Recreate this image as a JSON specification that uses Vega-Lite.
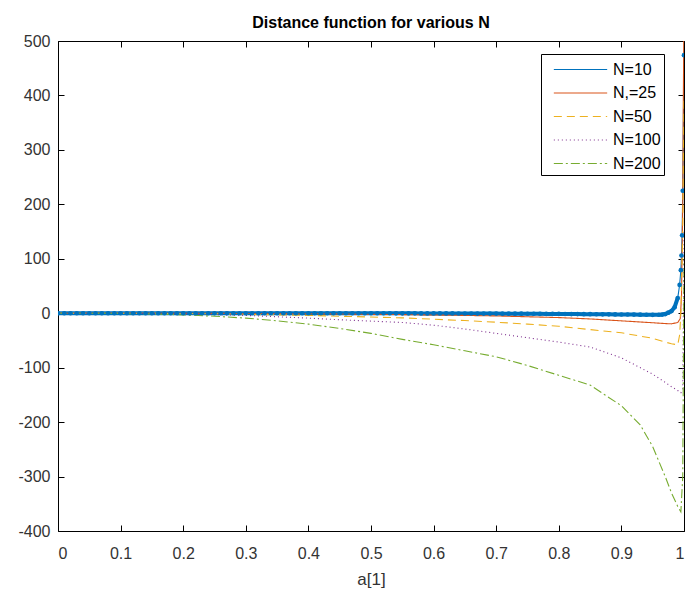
{
  "$schema": "https://vega.github.io/schema/vega-lite/v6.json",
  "width": 626,
  "height": 490,
  "autosize": "none",
  "padding": {"left": 58, "top": 41, "right": 3, "bottom": 59},
  "background": "white",
  "config": {
    "font": "Liberation Sans",
    "view": {"stroke": "black", "strokeWidth": 1},
    "axis": {"grid": false, "domain": false, "tickColor": "black", "labelColor": "#333333", "labelFontSize": 16, "titleColor": "#333333", "titleFontSize": 17, "titleFontWeight": "normal"},
    "legend": {"orient": "none", "legendX": 483, "legendY": 13, "fillColor": "white", "strokeColor": "black", "padding": 3, "symbolType": "M-2.3,0H2.3", "symbolSize": 538, "symbolOffset": 24, "symbolStrokeWidth": 1.1, "labelFontSize": 16, "labelColor": "black", "rowPadding": 2.5, "labelOffset": 20}
  },
  "title": {"text": "Distance function for various N", "fontSize": 16, "fontWeight": "bold", "color": "black", "offset": 2, "anchor": "middle"},
  "data": {"values": [
    {"N":"N=10","a":0,"d":0},{"N":"N=10","a":0.01,"d":0},{"N":"N=10","a":0.02,"d":0},{"N":"N=10","a":0.03,"d":0},{"N":"N=10","a":0.04,"d":0},{"N":"N=10","a":0.05,"d":0},{"N":"N=10","a":0.06,"d":0},{"N":"N=10","a":0.07,"d":0},{"N":"N=10","a":0.08,"d":0},{"N":"N=10","a":0.09,"d":0},
    {"N":"N=10","a":0.1,"d":0},{"N":"N=10","a":0.11,"d":0},{"N":"N=10","a":0.12,"d":0},{"N":"N=10","a":0.13,"d":0},{"N":"N=10","a":0.14,"d":0},{"N":"N=10","a":0.15,"d":0},{"N":"N=10","a":0.16,"d":0},{"N":"N=10","a":0.17,"d":0},{"N":"N=10","a":0.18,"d":0},{"N":"N=10","a":0.19,"d":0},
    {"N":"N=10","a":0.2,"d":0},{"N":"N=10","a":0.21,"d":0},{"N":"N=10","a":0.22,"d":0},{"N":"N=10","a":0.23,"d":0},{"N":"N=10","a":0.24,"d":0},{"N":"N=10","a":0.25,"d":0},{"N":"N=10","a":0.26,"d":0},{"N":"N=10","a":0.27,"d":0},{"N":"N=10","a":0.28,"d":0},{"N":"N=10","a":0.29,"d":0},
    {"N":"N=10","a":0.3,"d":0},{"N":"N=10","a":0.31,"d":0},{"N":"N=10","a":0.32,"d":0},{"N":"N=10","a":0.33,"d":0},{"N":"N=10","a":0.34,"d":0},{"N":"N=10","a":0.35,"d":0},{"N":"N=10","a":0.36,"d":0},{"N":"N=10","a":0.37,"d":0},{"N":"N=10","a":0.38,"d":0},{"N":"N=10","a":0.39,"d":0},
    {"N":"N=10","a":0.4,"d":0},{"N":"N=10","a":0.41,"d":0},{"N":"N=10","a":0.42,"d":0},{"N":"N=10","a":0.43,"d":0},{"N":"N=10","a":0.44,"d":0},{"N":"N=10","a":0.45,"d":0},{"N":"N=10","a":0.46,"d":0},{"N":"N=10","a":0.47,"d":0},{"N":"N=10","a":0.48,"d":0},{"N":"N=10","a":0.49,"d":0},
    {"N":"N=10","a":0.5,"d":0},{"N":"N=10","a":0.51,"d":0},{"N":"N=10","a":0.52,"d":0},{"N":"N=10","a":0.53,"d":0},{"N":"N=10","a":0.54,"d":-0.2},{"N":"N=10","a":0.55,"d":-0.2},{"N":"N=10","a":0.56,"d":-0.2},{"N":"N=10","a":0.57,"d":-0.2},{"N":"N=10","a":0.58,"d":-0.3},{"N":"N=10","a":0.59,"d":-0.3},
    {"N":"N=10","a":0.6,"d":-0.3},{"N":"N=10","a":0.61,"d":-0.4},{"N":"N=10","a":0.62,"d":-0.4},{"N":"N=10","a":0.63,"d":-0.4},{"N":"N=10","a":0.64,"d":-0.5},{"N":"N=10","a":0.65,"d":-0.5},{"N":"N=10","a":0.66,"d":-0.5},{"N":"N=10","a":0.67,"d":-0.6},{"N":"N=10","a":0.68,"d":-0.6},{"N":"N=10","a":0.69,"d":-0.7},
    {"N":"N=10","a":0.7,"d":-0.7},{"N":"N=10","a":0.71,"d":-0.8},{"N":"N=10","a":0.72,"d":-0.8},{"N":"N=10","a":0.73,"d":-0.9},{"N":"N=10","a":0.74,"d":-0.9},{"N":"N=10","a":0.75,"d":-1},{"N":"N=10","a":0.76,"d":-1},{"N":"N=10","a":0.77,"d":-1.1},{"N":"N=10","a":0.78,"d":-1.2},{"N":"N=10","a":0.79,"d":-1.2},
    {"N":"N=10","a":0.8,"d":-1.3},{"N":"N=10","a":0.81,"d":-1.4},{"N":"N=10","a":0.82,"d":-1.5},{"N":"N=10","a":0.83,"d":-1.6},{"N":"N=10","a":0.84,"d":-1.7},{"N":"N=10","a":0.85,"d":-1.8},{"N":"N=10","a":0.86,"d":-1.9},{"N":"N=10","a":0.87,"d":-2},{"N":"N=10","a":0.88,"d":-2.1},{"N":"N=10","a":0.89,"d":-2.2},
    {"N":"N=10","a":0.9,"d":-2.3},{"N":"N=10","a":0.91,"d":-2.4},{"N":"N=10","a":0.92,"d":-2.5},{"N":"N=10","a":0.93,"d":-2.7},{"N":"N=10","a":0.94,"d":-2.8},{"N":"N=10","a":0.95,"d":-3},{"N":"N=10","a":0.96,"d":-2.8},{"N":"N=10","a":0.965,"d":-2.5},{"N":"N=10","a":0.97,"d":-1.5},{"N":"N=10","a":0.975,"d":1},
    {"N":"N=10","a":0.98,"d":4},{"N":"N=10","a":0.985,"d":11},{"N":"N=10","a":0.99,"d":28},{"N":"N=10","a":0.993,"d":52},{"N":"N=10","a":0.995,"d":79},{"N":"N=10","a":0.996,"d":106},{"N":"N=10","a":0.997,"d":143},{"N":"N=10","a":0.998,"d":225},{"N":"N=10","a":1,"d":474},

    {"N":"N,=25","a":0,"d":0},{"N":"N,=25","a":0.05,"d":0},{"N":"N,=25","a":0.1,"d":0},{"N":"N,=25","a":0.15,"d":0},{"N":"N,=25","a":0.2,"d":-0.2},{"N":"N,=25","a":0.25,"d":-0.3},{"N":"N,=25","a":0.3,"d":-0.5},{"N":"N,=25","a":0.35,"d":-0.7},{"N":"N,=25","a":0.4,"d":-1},{"N":"N,=25","a":0.45,"d":-1.3},
    {"N":"N,=25","a":0.5,"d":-2},{"N":"N,=25","a":0.55,"d":-2.5},{"N":"N,=25","a":0.6,"d":-3.2},{"N":"N,=25","a":0.65,"d":-4},{"N":"N,=25","a":0.7,"d":-5},{"N":"N,=25","a":0.75,"d":-6.5},{"N":"N,=25","a":0.8,"d":-8},{"N":"N,=25","a":0.85,"d":-10.5},{"N":"N,=25","a":0.9,"d":-14},{"N":"N,=25","a":0.95,"d":-17.5},
    {"N":"N,=25","a":0.97,"d":-19},{"N":"N,=25","a":0.98,"d":-19.5},{"N":"N,=25","a":0.99,"d":-17},{"N":"N,=25","a":0.994,"d":-10},{"N":"N,=25","a":0.996,"d":30},{"N":"N,=25","a":0.998,"d":200},{"N":"N,=25","a":0.999,"d":400},{"N":"N,=25","a":1,"d":560},

    {"N":"N=50","a":0,"d":0},{"N":"N=50","a":0.05,"d":0},{"N":"N=50","a":0.1,"d":0},{"N":"N=50","a":0.15,"d":-0.2},{"N":"N=50","a":0.2,"d":-0.5},{"N":"N=50","a":0.25,"d":-1},{"N":"N=50","a":0.3,"d":-2},{"N":"N=50","a":0.35,"d":-3},{"N":"N=50","a":0.4,"d":-4},{"N":"N=50","a":0.45,"d":-5.5},
    {"N":"N=50","a":0.5,"d":-7},{"N":"N=50","a":0.55,"d":-8.5},{"N":"N=50","a":0.6,"d":-11},{"N":"N=50","a":0.65,"d":-13.5},{"N":"N=50","a":0.7,"d":-16.5},{"N":"N=50","a":0.75,"d":-20},{"N":"N=50","a":0.8,"d":-24},{"N":"N=50","a":0.85,"d":-30},{"N":"N=50","a":0.9,"d":-36},{"N":"N=50","a":0.95,"d":-46},
    {"N":"N=50","a":0.97,"d":-53},{"N":"N=50","a":0.98,"d":-56},{"N":"N=50","a":0.99,"d":-58},{"N":"N=50","a":0.993,"d":-40},{"N":"N=50","a":0.995,"d":0},{"N":"N=50","a":0.998,"d":150},{"N":"N=50","a":1,"d":400},

    {"N":"N=100","a":0,"d":0},{"N":"N=100","a":0.05,"d":0},{"N":"N=100","a":0.1,"d":-0.2},{"N":"N=100","a":0.15,"d":-0.6},{"N":"N=100","a":0.2,"d":-1.3},{"N":"N=100","a":0.25,"d":-2.5},{"N":"N=100","a":0.3,"d":-4},{"N":"N=100","a":0.35,"d":-6.5},{"N":"N=100","a":0.4,"d":-9},{"N":"N=100","a":0.45,"d":-12},
    {"N":"N=100","a":0.5,"d":-14.5},{"N":"N=100","a":0.55,"d":-17},{"N":"N=100","a":0.6,"d":-22},{"N":"N=100","a":0.65,"d":-29},{"N":"N=100","a":0.7,"d":-37},{"N":"N=100","a":0.75,"d":-45},{"N":"N=100","a":0.8,"d":-53},{"N":"N=100","a":0.85,"d":-62},{"N":"N=100","a":0.9,"d":-82},{"N":"N=100","a":0.95,"d":-112},
    {"N":"N=100","a":0.97,"d":-127},{"N":"N=100","a":0.98,"d":-135},{"N":"N=100","a":0.99,"d":-142},{"N":"N=100","a":0.995,"d":-146},{"N":"N=100","a":0.998,"d":-140},{"N":"N=100","a":1,"d":150},

    {"N":"N=200","a":0,"d":0},{"N":"N=200","a":0.05,"d":-0.2},{"N":"N=200","a":0.1,"d":-0.5},{"N":"N=200","a":0.15,"d":-1.5},{"N":"N=200","a":0.2,"d":-3},{"N":"N=200","a":0.25,"d":-5.5},{"N":"N=200","a":0.3,"d":-9},{"N":"N=200","a":0.35,"d":-14},{"N":"N=200","a":0.4,"d":-20},{"N":"N=200","a":0.45,"d":-28},
    {"N":"N=200","a":0.5,"d":-37},{"N":"N=200","a":0.55,"d":-48},{"N":"N=200","a":0.6,"d":-58},{"N":"N=200","a":0.65,"d":-69},{"N":"N=200","a":0.7,"d":-80},{"N":"N=200","a":0.75,"d":-96},{"N":"N=200","a":0.8,"d":-114},{"N":"N=200","a":0.85,"d":-132},{"N":"N=200","a":0.9,"d":-170},{"N":"N=200","a":0.93,"d":-205},{"N":"N=200","a":0.95,"d":-245},
    {"N":"N=200","a":0.97,"d":-300},{"N":"N=200","a":0.98,"d":-330},{"N":"N=200","a":0.99,"d":-355},{"N":"N=200","a":0.995,"d":-365},{"N":"N=200","a":0.998,"d":-300},{"N":"N=200","a":1,"d":100}
  ]},
  "layer": [
    {
      "transform": [{"filter": "datum.N == 'N=10' && datum.a <= 0.99"}],
      "mark": {"type": "line", "clip": true, "strokeWidth": 4, "color": "#0072BD"},
      "encoding": {
        "x": {"field": "a", "type": "quantitative", "scale": {"domain": [0, 1], "nice": false}, "axis": {"title": "a[1]", "values": [0,0.1,0.2,0.3,0.4,0.5,0.6,0.7,0.8,0.9,1], "format": "~g", "ticks": false, "labelPadding": 14, "titlePadding": 10}},
        "y": {"field": "d", "type": "quantitative", "scale": {"domain": [-400, 500], "nice": false}, "axis": {"title": null, "values": [-400,-300,-200,-100,0,100,200,300,400,500], "labelExpr": "'' + datum.value", "ticks": false, "labelPadding": 8}},
        "order": {"field": "a", "type": "quantitative"}
      }
    },
    {
      "mark": {"type": "line", "clip": true, "strokeWidth": 1.1},
      "encoding": {
        "x": {"field": "a", "type": "quantitative", "axis": {"orient": "top", "offset": -490, "labels": false, "title": null, "tickSize": 6, "values": [0,0.1,0.2,0.3,0.4,0.5,0.6,0.7,0.8,0.9,1]}},
        "y": {"field": "d", "type": "quantitative", "axis": {"orient": "right", "offset": -626, "labels": false, "title": null, "tickSize": 6, "values": [-400,-300,-200,-100,0,100,200,300,400,500]}},
        "color": {"field": "N", "type": "nominal", "scale": {"domain": ["N=10","N,=25","N=50","N=100","N=200"], "range": ["#0072BD","#D95319","#EDB120","#7E2F8E","#77AC30"]}, "legend": {"title": null}},
        "strokeDash": {"field": "N", "type": "nominal", "scale": {"domain": ["N=10","N,=25","N=50","N=100","N=200"], "range": [[1,0],[1,0],[8,5],[1,3],[9,3,2,3]]}, "legend": {"title": null}},
        "order": {"field": "a", "type": "quantitative"}
      }
    },
    {
      "transform": [{"filter": "datum.N == 'N=10'"}],
      "mark": {"type": "point", "filled": true, "clip": true, "size": 22, "opacity": 1, "color": "#0072BD"},
      "encoding": {
        "x": {"field": "a", "type": "quantitative", "axis": {"orient": "bottom", "offset": -490, "labels": false, "title": null, "tickSize": 6, "values": [0,0.1,0.2,0.3,0.4,0.5,0.6,0.7,0.8,0.9,1]}},
        "y": {"field": "d", "type": "quantitative", "axis": {"orient": "left", "offset": -626, "labels": false, "title": null, "tickSize": 6, "values": [-400,-300,-200,-100,0,100,200,300,400,500]}}
      }
    }
  ],
  "resolve": {"axis": {"x": "independent", "y": "independent"}}
}
